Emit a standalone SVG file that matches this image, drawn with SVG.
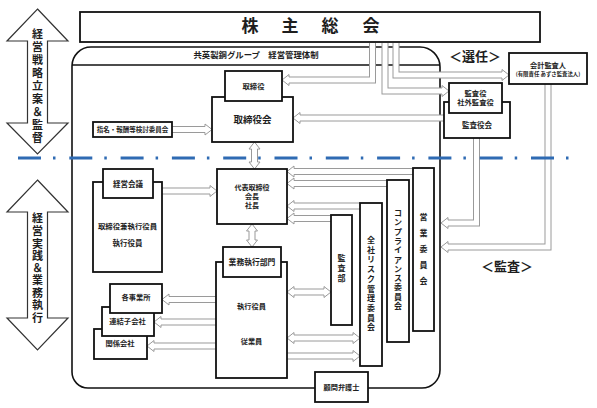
<svg xmlns="http://www.w3.org/2000/svg" width="597" height="408" viewBox="0 0 597 408">
<style>
text{font-family:"Noto Sans CJK JP","Noto Sans CJK SC",sans-serif;fill:#1e1e1e;text-anchor:middle;font-weight:700}
.box{fill:#fff;stroke:#111;stroke-width:1.8}
.big{fill:none;stroke:#111;stroke-width:1.6}
.o{fill:none;stroke:#9a9a9a;stroke-width:7;stroke-linejoin:miter}
.i{fill:none;stroke:#fff;stroke-width:5;stroke-linejoin:miter}
.e{marker-end:url(#ah)}
.b{marker-start:url(#ah);marker-end:url(#ah)}
.bar{fill:#fff;stroke:#333;stroke-width:1.2}
</style>
<defs>
<marker id="ah" markerUnits="userSpaceOnUse" markerWidth="10" markerHeight="14" viewBox="0 0 10 14" refX="0" refY="7" orient="auto-start-reverse" overflow="visible">
<path d="M0,4 V1.5 L7,7 L0,12.5 V10" fill="#fff" stroke="#9a9a9a" stroke-width="1"/>
</marker>
</defs>
<rect width="597" height="408" fill="#fff"/>

<g id="side-arrows">
<polygon class="bar" points="37.5,9 68,41 47.5,41 47.5,123 68,123 37.5,154 7,123 27.5,123 27.5,41 7,41"/>
<text font-size="11" x="37.5 37.5 37.5 37.5 37.5 37.5 37.5 37.5 37.5" y="38 51 64 77 90 103 116 129 142">経営戦略立案＆監督</text>
<polygon class="bar" points="37.5,180 68,212 47.5,212 47.5,318 68,318 37.5,350 7,318 27.5,318 27.5,212 7,212"/>
<text font-size="11" x="37.5 37.5 37.5 37.5 37.5 37.5 37.5 37.5 37.5" y="222 235 248 260 272 284 297 309 322">経営実践＆業務執行</text>
</g>

<g id="kabunushi-sokai">
<rect class="box" x="80" y="12" width="460" height="30"/>
<text font-size="17" x="250 290 330 371" y="32">株主総会</text>
</g>

<g id="group-frame">
<path class="big" d="M72,66 A19,19 0 0 1 91,47 H420 A20,20 0 0 1 440,67 V370 A18,18 0 0 1 422,388 H88 A16,16 0 0 1 72,372 Z"/>
<line x1="72" y1="65" x2="440" y2="65" stroke="#111" stroke-width="1.4"/>
<text font-size="8.4" x="256" y="57.5">共英製鋼グループ　経営管理体制</text>
</g>

<g id="connectors">
<path class="o" d="M372.5,43 V80 H289"/><path class="i e" d="M372.5,43 V80 H289"/>
<path class="o" d="M385,43 V91 H442"/><path class="i e" d="M385,43 V91 H442"/>
<path class="o" d="M396,43 V75 H502"/><path class="i e" d="M396,43 V75 H502"/>
<path class="o" d="M444,118 H300"/><path class="i e" d="M444,118 H300"/>
<path class="o" d="M172,129.5 H205"/><path class="i e" d="M172,129.5 H205"/>
<path class="o" d="M254.5,149 V162"/><path class="i b" d="M254.5,149 V162"/>
<path class="o" d="M162,191 H210"/><path class="i e" d="M162,191 H210"/>
<path class="o" d="M252,231 V240"/><path class="i b" d="M252,231 V240"/>
<path class="o" d="M413,171.5 H294"/><path class="i e" d="M413,171.5 H294"/>
<path class="o" d="M387,183.5 H294"/><path class="i e" d="M387,183.5 H294"/>
<path class="o" d="M360,206 H294"/><path class="i e" d="M360,206 H294"/>
<path class="o" d="M331,218.5 H294"/><path class="i e" d="M331,218.5 H294"/>
<path class="o" d="M294,292 H324"/><path class="i b" d="M294,292 H324"/>
<path class="o" d="M294,338 H353"/><path class="i b" d="M294,338 H353"/>
<path class="o" d="M287,356 H353"/><path class="i e" d="M287,356 H353"/>
<path class="o" d="M216,299.5 H169"/><path class="i e" d="M216,299.5 H169"/>
<path class="o" d="M216,322 H161"/><path class="i e" d="M216,322 H161"/>
<path class="o" d="M216,346 H154"/><path class="i e" d="M216,346 H154"/>
<path class="o" d="M476.5,138 V223 H448"/><path class="i e" d="M476.5,138 V223 H448"/>
<path class="o" d="M548,84 V247 H448"/><path class="i e" d="M548,84 V247 H448"/>
</g>

<g id="torishimariyakukai">
<rect class="box" x="212" y="97" width="81" height="45"/>
<text font-size="9.5" x="252.5" y="123">取締役会</text>
</g>
<g id="torishimariyaku">
<rect class="box" x="225" y="71" width="57" height="30"/>
<text font-size="7.3" x="253.5" y="88.5">取締役</text>
</g>
<g id="shimei-iinkai">
<rect class="box" x="93" y="122" width="79" height="15" stroke-width="2.4"/>
<text font-size="6.5" x="132.5" y="132.4">指名・報酬等検討委員会</text>
</g>

<g id="keiei-kaigi">
<rect class="box" x="93" y="182" width="69" height="90"/>
<rect class="box" x="103" y="169" width="50" height="29"/>
<text font-size="7.5" x="128" y="186.7">経営会議</text>
<text font-size="7.4" x="127.5" y="228.7">取締役兼執行役員</text>
<text font-size="7.5" x="127.5" y="245.7">執行役員</text>
</g>

<g id="daihyo">
<rect class="box" x="217" y="169" width="70" height="55"/>
<text font-size="7" x="252" y="189.5">代表取締役</text>
<text font-size="7" x="252" y="198.5">会長</text>
<text font-size="7" x="252" y="207.5">社長</text>
</g>

<g id="gyomu-shikko">
<rect class="box" x="216" y="262" width="71" height="116"/>
<rect class="box" x="223" y="247" width="58" height="30"/>
<text font-size="7.8" x="252" y="264.8">業務執行部門</text>
<text font-size="7.2" x="251.5" y="308.6">執行役員</text>
<text font-size="7.2" x="251.5" y="343.6">従業員</text>
</g>

<g id="kankei-gaisha">
<rect class="box" x="94" y="329" width="53" height="30"/>
<text font-size="7.3" x="120" y="346">関係会社</text>
</g>
<g id="renketsu-kogaisha">
<rect class="box" x="102" y="307" width="52" height="29"/>
<text font-size="7.3" x="127.5" y="323.6">連結子会社</text>
</g>
<g id="kaku-jigyosho">
<rect class="box" x="110" y="284" width="52" height="29"/>
<text font-size="7.2" x="136" y="300">各事業所</text>
</g>

<g id="kansabu">
<rect class="box" x="331" y="215" width="21" height="110"/>
<text font-size="8" x="341.5 341.5 341.5" y="261 271 281">監査部</text>
</g>
<g id="risk-iinkai">
<rect class="box" x="360" y="203" width="22" height="163"/>
<text font-size="8" x="371 371 371 371 371 371 371 371 371 371" y="243 252.7 262.4 272.1 281.8 291.5 301.2 310.9 320.6 330.3">全社リスク管理委員会</text>
</g>
<g id="compliance-iinkai">
<rect class="box" x="387" y="180" width="22" height="162"/>
<text font-size="8" x="398 398 398 398 398 398 398 398 398 398 398" y="216 225.3 234.6 243.9 253.2 262.5 271.8 281.1 290.4 299.7 309">コンプライアンス委員会</text>
</g>
<g id="eigyo-iinkai">
<rect class="box" x="413" y="168" width="21" height="163"/>
<text font-size="8" x="423.5 423.5 423.5 423.5 423.5" y="220 236 252 268 284">営業委員会</text>
</g>

<g id="komon-bengoshi">
<rect class="box" x="315" y="372" width="53" height="30"/>
<text font-size="7.2" x="341.5" y="389.6">顧問弁護士</text>
</g>

<g id="kansayakukai">
<rect class="box" x="444" y="102" width="66" height="36"/>
<text font-size="7.5" x="477" y="127.7">監査役会</text>
</g>
<g id="kansayaku">
<rect class="box" x="449" y="83" width="53" height="30"/>
<text font-size="7.3" x="475.5" y="95.6">監査役</text>
<text font-size="7.3" x="475.5" y="104.6">社外監査役</text>
</g>
<g id="kaikei-kansanin">
<rect class="box" x="509" y="53" width="78" height="31"/>
<text font-size="7.2" x="548" y="67.6">会計監査人</text>
<text font-size="5.4" x="548" y="76">(有限責任 あずさ監査法人)</text>
</g>

<g id="labels">
<text font-size="13" x="475" y="60.7">＜選任＞</text>
<text font-size="13" x="507" y="270.7">＜監査＞</text>
</g>

<line id="divider" x1="18" y1="158" x2="572" y2="158" stroke="#2f6bb3" stroke-width="3" stroke-dasharray="23 12 2.5 13.8"/>
</svg>
